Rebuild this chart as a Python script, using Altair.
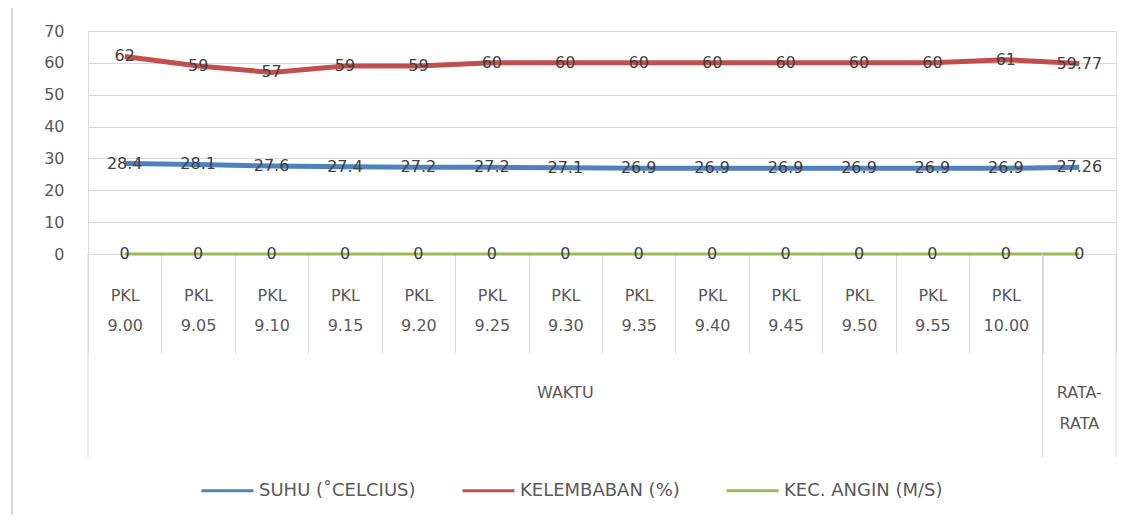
import altair as alt
import pandas as pd

categories = ["PKL 9.00", "PKL 9.05", "PKL 9.10", "PKL 9.15", "PKL 9.20", "PKL 9.25",
              "PKL 9.30", "PKL 9.35", "PKL 9.40", "PKL 9.45", "PKL 9.50", "PKL 9.55",
              "PKL 10.00", "RATA-RATA"]
suhu = [28.4, 28.1, 27.6, 27.4, 27.2, 27.2, 27.1, 26.9, 26.9, 26.9, 26.9, 26.9, 26.9, 27.26]
kelembaban = [62, 59, 57, 59, 59, 60, 60, 60, 60, 60, 60, 60, 61, 59.77]
angin = [0, 0, 0, 0, 0, 0, 0, 0, 0, 0, 0, 0, 0, 0]
series_names = ["SUHU (˚CELCIUS)", "KELEMBABAN (%)", "KEC. ANGIN (M/S)"]
series_colors = ["#4F81BD", "#C0504D", "#9BBB59"]
group_labels = ["WAKTU", "RATA-\nRATA"]
group_anchor = ["PKL 9.30", "RATA-RATA"]
y_ticks = [0, 10, 20, 30, 40, 50, 60, 70]

rows = []
for name, vals in zip(series_names, [suhu, kelembaban, angin]):
    for c, v in zip(categories, vals):
        rows.append({"category": c, "series": name, "value": v})
df = pd.DataFrame(rows)

W, H = 1028, 223
FONT = "DejaVu Sans"
GRID = "#d9d9d9"
LABEL = "#595959"

xscale = alt.Scale(domain=categories, type="band", paddingInner=0, paddingOuter=0)
yscale = alt.Scale(domain=[0, 70], nice=False)

xaxis = alt.Axis(labelExpr="(!datum.value || datum.value == 'RATA-RATA') ? '' : split(datum.value, ' ')",
                 labelAngle=0, labelFontSize=16, labelColor=LABEL, labelLineHeight=30,
                 labelFont=FONT, tickBand="extent", tickSize=99, tickColor=GRID,
                 domainColor=GRID, labelPadding=-66, grid=False, title=None,
                 labelOverlap=False)
yaxis = alt.Axis(values=y_ticks, grid=True, gridColor=GRID, domain=False, ticks=False,
                 labelPadding=24, labelFontSize=16, labelColor=LABEL, labelFont=FONT,
                 title=None, labelOverlap=False)

lines = alt.Chart(df).mark_line(strokeCap="butt").encode(
    x=alt.X("category:N", scale=xscale, sort=categories, bandPosition=0.5, title=None, axis=xaxis),
    y=alt.Y("value:Q", scale=yscale, title=None, axis=yaxis),
    color=alt.Color("series:N", scale=alt.Scale(domain=series_names, range=series_colors),
                    sort=series_names,
                    legend=alt.Legend(title=None, orient="none", legendX=112, legendY=432,
                                      direction="horizontal", symbolType="stroke",
                                      symbolSize=2704, symbolStrokeWidth=3, labelFontSize=18,
                                      labelColor=LABEL, labelFont=FONT, columnPadding=40,
                                      labelOffset=4)),
    strokeWidth=alt.condition(alt.datum.series == series_names[2], alt.value(3), alt.value(5)),
    detail="series:N",
)

labels = alt.Chart(df).mark_text(fontSize=16, color="#404040", font=FONT, baseline="middle").encode(
    x=alt.X("category:N", scale=xscale, sort=categories, bandPosition=0.5, title=None, axis=xaxis),
    y=alt.Y("value:Q", scale=yscale, title=None, axis=yaxis),
    text=alt.Text("value:Q"),
)

gdf = pd.DataFrame({"label": group_labels, "anchor": group_anchor})
groups = alt.Chart(gdf).mark_text(fontSize=16, color=LABEL, font=FONT, baseline="top",
                                  lineBreak="\n", lineHeight=31).encode(
    x=alt.X("anchor:N", scale=xscale, sort=categories, bandPosition=0.5, title=None, axis=xaxis),
    y=alt.value(H + 131),
    text="label:N",
)

bstart = pd.DataFrame({"anchor": ["PKL 9.00", "RATA-RATA"]})
bend = pd.DataFrame({"anchor": ["RATA-RATA"]})
sep1 = alt.Chart(bstart).mark_rule(color=GRID, strokeWidth=1).encode(
    x=alt.X("anchor:N", scale=xscale, sort=categories, bandPosition=0, title=None, axis=xaxis),
    y=alt.value(H), y2=alt.value(H + 203),
)
sep2 = alt.Chart(bend).mark_rule(color=GRID, strokeWidth=1).encode(
    x=alt.X("anchor:N", scale=xscale, sort=categories, bandPosition=1, title=None, axis=xaxis),
    y=alt.value(H), y2=alt.value(H + 203),
)
border = alt.Chart(bend).mark_rule(color=GRID, strokeWidth=2).encode(
    x=alt.value(-76), y=alt.value(-23), y2=alt.value(H + 270),
)

chart = alt.layer(lines, labels, groups, sep1, sep2, border).properties(
    width=W, height=H,
    autosize=alt.AutoSizeParams(type="none"),
    padding={"left": 80, "top": 23, "right": 20, "bottom": 261},
    background="white",
).configure_view(stroke=None).configure(font=FONT)

chart.save("out.html", embed_options={"renderer": "svg", "actions": False})
